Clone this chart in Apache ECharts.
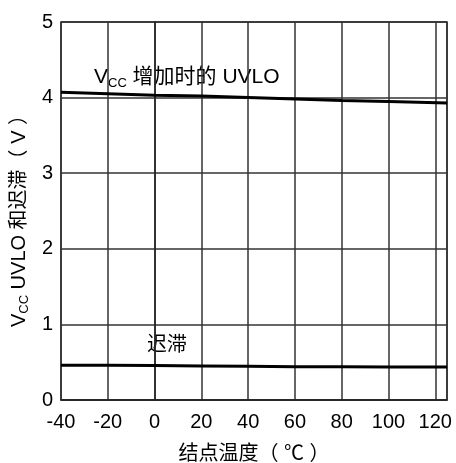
<!DOCTYPE html>
<html><head><meta charset="utf-8">
<script src="https://cdn.jsdelivr.net/npm/echarts@6/dist/echarts.min.js"></script>
<style>html,body{margin:0;padding:0;background:#fff}#c{width:456px;height:463px}</style>
</head><body><div id="c"></div>
<script>
const temps = [-40, -20, 0, 20, 40, 60, 80, 100, 125];
const uvloRising = [4.07, 4.05, 4.03, 4.02, 4.00, 3.98, 3.96, 3.95, 3.93];
const hysteresis = [0.46, 0.46, 0.455, 0.45, 0.445, 0.44, 0.44, 0.435, 0.435];
const xTicks = [-40, -20, 0, 20, 40, 60, 80, 100, 120];
const yTicks = [0, 1, 2, 3, 4, 5];

const FONT = '"Liberation Sans", Arial, "Noto Sans CJK SC", sans-serif';
const rich = {
  a: {color: '#000', fontSize: 20, fontFamily: FONT},
  s: {color: '#000', fontSize: 13, fontFamily: FONT, verticalAlign: 'bottom', padding: [10, 0, 0, 0]}
};
const richB = {
  a: {color: '#000', fontSize: 21, fontFamily: FONT},
  s: {color: '#000', fontSize: 13, fontFamily: FONT, verticalAlign: 'bottom', padding: [11, 0, 0, 0]}
};
const chart = echarts.init(document.getElementById('c'));
chart.setOption({
  animation: false,
  grid: {left: 61, right: 9, top: 22, bottom: 63, show: true, borderColor: '#222', borderWidth: 1.5,
         containLabel: false, outerBoundsMode: 'none'},
  xAxis: {
    type: 'value', min: -40, max: 125, interval: 20,
    axisLine: {show: true, lineStyle: {color: '#222', width: 1.5}},
    axisTick: {show: false},
    axisLabel: {color: '#000', fontSize: 20, fontFamily: FONT, margin: 12, showMaxLabel: false,
      formatter: v => xTicks.includes(v) ? String(v) : ''},
    splitLine: {show: true, lineStyle: {color: '#333', width: 1.5}},
    name: '结点温度（ ℃ ）', nameLocation: 'middle', nameGap: 44,
    nameTextStyle: {color: '#000', fontSize: 20, fontFamily: FONT}
  },
  yAxis: {
    type: 'value', min: 0, max: 5, interval: 1,
    axisLine: {show: true, lineStyle: {color: '#222', width: 1.5}},
    axisTick: {show: false},
    axisLabel: {color: '#000', fontSize: 20, fontFamily: FONT, margin: 8,
      formatter: v => yTicks.includes(v) ? String(v) : ''},
    splitLine: {show: true, lineStyle: {color: '#333', width: 1.5}},
    name: '{a|V}{s|CC}{a| UVLO 和迟滞（ V ）}', nameLocation: 'middle', nameGap: 28,
    nameTextStyle: {rich: rich, padding: [0, 10, 0, 0]}
  },
  graphic: [
    {type: 'text', left: 94, top: 67, style: {text: '{a|V}{s|CC}{a| 增加时的 UVLO}', rich: richB}},
    {type: 'text', left: 147, top: 335, style: {text: '迟滞', fill: '#000', fontSize: 20, fontFamily: FONT}},
    {type: 'text', left: 153, top: -9, style: {text: 'CC', fill: '#000', fontSize: 12, fontFamily: FONT}}
  ],
  series: [
    {type: 'line', data: temps.map((t, i) => [t, uvloRising[i]]), showSymbol: false,
     lineStyle: {color: '#000', width: 3}, z: 5},
    {type: 'line', data: temps.map((t, i) => [t, hysteresis[i]]), showSymbol: false,
     lineStyle: {color: '#000', width: 3}, z: 5}
  ]
});
</script></body></html>
